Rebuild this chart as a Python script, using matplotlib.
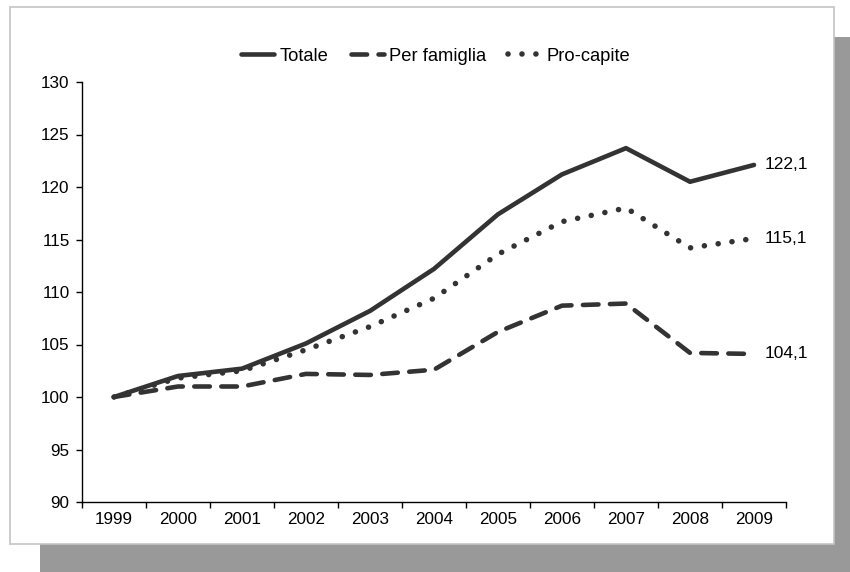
import matplotlib
matplotlib.use("Agg")
import matplotlib.pyplot as plt
from matplotlib.patches import Rectangle
import numpy as np

years = ["1999", "2000", "2001", "2002", "2003", "2004", "2005", "2006", "2007", "2008", "2009"]
totale = [100.0, 102.0, 102.7, 105.1, 108.2, 112.2, 117.4, 121.2, 123.7, 120.5, 122.1]
per_famiglia = [100.0, 101.0, 101.0, 102.2, 102.1, 102.6, 106.2, 108.7, 108.9, 104.2, 104.1]
pro_capite = [100.0, 101.8, 102.5, 104.5, 106.7, 109.4, 113.6, 116.7, 118.0, 114.2, 115.1]
series_names = ["Totale", "Per famiglia", "Pro-capite"]
end_labels = ["122,1", "104,1", "115,1"]
y_ticks = [90, 95, 100, 105, 110, 115, 120, 125, 130]

plt.rcParams['font.family'] = ['Liberation Sans', 'DejaVu Sans']
W, H = 850, 572
fig = plt.figure(figsize=(W / 100, H / 100), dpi=100)
fig.patch.set_facecolor('white')

# shadow and framed box
fig.patches.append(Rectangle((40 / W, 0), 1 - 40 / W, 1 - 37 / H, transform=fig.transFigure,
                             facecolor='#999999', edgecolor='none', zorder=0))
fig.patches.append(Rectangle((10 / W, 28 / H), (834 - 10) / W, (565 - 28) / H, transform=fig.transFigure,
                             facecolor='white', edgecolor='#c4c4c4', linewidth=1.2, zorder=1))

ax = fig.add_axes([82 / W, (H - 502) / H, (786 - 82) / W, (502 - 82) / H])
ax.set_facecolor('none')
ax.set_zorder(2)

x = np.arange(len(years))
col = '#333333'
l1, = ax.plot(x, totale, color=col, lw=3.3, solid_capstyle='round', solid_joinstyle='round', label=series_names[0])
l2, = ax.plot(x, per_famiglia, color=col, lw=3.3, dashes=(3.4, 2.5), dash_capstyle='round', label=series_names[1])
l3, = ax.plot(x, pro_capite, color=col, lw=4.0, dashes=(0.01, 2.5), dash_capstyle='round', label=series_names[2])

for series, lab in zip([totale, per_famiglia, pro_capite], end_labels):
    ax.annotate(lab, xy=(x[-1], series[-1]), xytext=(11, 0), textcoords='offset pixels',
                ha='left', va='center', fontsize=12.5, color='black')

ax.set_xlim(-0.5, len(years) - 0.5)
ax.set_ylim(90, 130)
ax.set_yticks(y_ticks)
ax.set_yticklabels([str(v) for v in y_ticks])
ax.set_xticks(np.arange(-0.5, len(years), 1.0))
ax.set_xticklabels([])
ax.set_xticks(x, minor=True)
ax.set_xticklabels(years, minor=True)
ax.tick_params(axis='x', which='major', length=4, width=1, color='black', direction='out')
ax.tick_params(axis='x', which='minor', length=0, pad=7, labelsize=12.3)
ax.tick_params(axis='y', length=4, width=1, color='black', direction='out', pad=5, labelsize=12.3)
for s in ['top', 'right']:
    ax.spines[s].set_visible(False)
for s in ['left', 'bottom']:
    ax.spines[s].set_color('black')
    ax.spines[s].set_linewidth(1.0)

leg = fig.legend(handles=[l1, l2, l3], loc='center', bbox_to_anchor=(436 / W, 1 - 56 / H), ncol=3,
                 frameon=False, fontsize=13.2, handlelength=1.8, handletextpad=0.3, columnspacing=1.2)
leg.set_zorder(3)

fig.savefig('out.png', dpi=100, facecolor='white')
